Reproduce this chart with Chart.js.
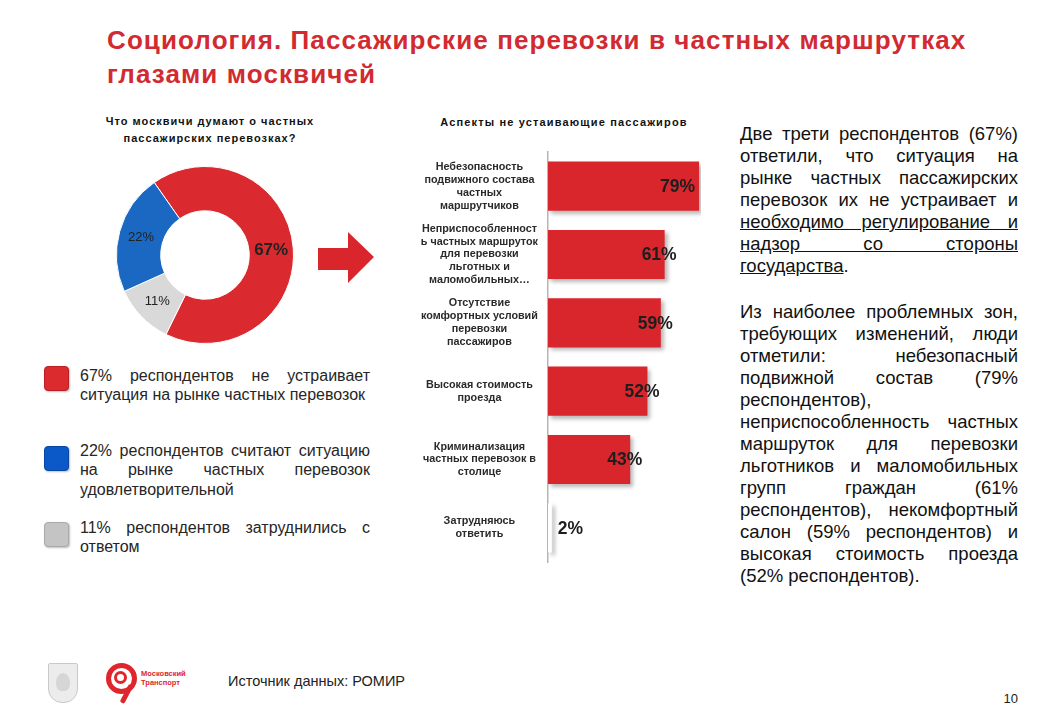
<!DOCTYPE html>
<html lang="ru">
<head>
<meta charset="UTF-8">
<title>Социология. Пассажирские перевозки в частных маршрутках</title>
<script src="https://cdn.jsdelivr.net/npm/chart.js@4.4.1/dist/chart.umd.min.js"></script>
<style>
  body {
    margin: 0;
    width: 1040px;
    height: 720px;
    position: relative;
    overflow: hidden;
    background: #fff;
    font-family: 'Liberation Sans', Arial, sans-serif;
    color: #1a1a1a;
  }
  .abs { position: absolute; }

  h1 {
    position: absolute; left: 107px; top: 23px; margin: 0;
    font-size: 26px; line-height: 34px; font-weight: bold; color: #d22a31;
    letter-spacing: 1.1px; white-space: nowrap;
  }

  .subtitle {
    position: absolute; text-align: center; font-weight: bold;
    font-size: 11px; line-height: 16.5px; letter-spacing: 1px; color: #111;
  }

  .arrow {
    position: absolute; left: 318px; top: 232px; width: 56px; height: 52px;
    background: #d9262c;
    clip-path: polygon(0 16px, 30px 16px, 30px 0, 56px 25px, 30px 51px, 30px 38px, 0 38px);
  }

  .legend-box {
    position: absolute; left: 44px; width: 23px; height: 23px;
    border-radius: 4px; border: 1px solid; box-shadow: 1px 1px 2px rgba(0,0,0,0.25);
  }
  .legend-text {
    position: absolute; left: 80px; width: 290px;
    font-size: 16px; line-height: 19.3px; color: #262626;
  }

  .side-text {
    position: absolute; left: 740px; top: 123px; width: 278px;
    font-size: 18.5px; line-height: 22px; color: #111;
  }
  .side-text p { margin: 0; }
  .side-text p + p { margin-top: 24px; }

  .j { display: block; text-align: justify; text-align-last: justify; }
  .l { display: block; }
  .u { text-decoration: underline; }

  .source { position: absolute; left: 228px; top: 673px; font-size: 14.5px; line-height: 17px; color: #222; }
  .page { position: absolute; right: 22px; top: 691px; font-size: 13px; color: #222; }

  /* logos */
  .shield {
    position: absolute; left: 48px; top: 663px; width: 28px; height: 38px;
    background: #ececec; border: 1px solid #c9c9c9;
    border-radius: 2px 2px 14px 14px;
  }
  .shield::after {
    content: ''; position: absolute; left: 7px; top: 9px; width: 14px; height: 18px;
    border-radius: 50% 50% 40% 40%; background: #d6d6d6;
  }
  .ring-outer {
    position: absolute; left: 106px; top: 663px; width: 21px; height: 21px;
    border: 5px solid #e0262d; border-radius: 50%;
  }
  .ring-inner {
    position: absolute; left: 114px; top: 671px; width: 7px; height: 7px;
    border: 3px solid #e0262d; border-radius: 50%;
  }
  .ring-tail {
    position: absolute; left: 124px; top: 684px; width: 5px; height: 20px;
    background: #e0262d; transform: rotate(28deg); border-radius: 2px;
  }
  .brand {
    position: absolute; left: 141px; top: 669px; font-size: 7.5px; line-height: 9px;
    font-weight: bold; color: #e0262d;
  }
</style>
</head>
<body>

<h1>Социология. Пассажирские перевозки в частных маршрутках<br>глазами москвичей</h1>

<!-- левая часть: мнение москвичей -->
<div class="subtitle" style="left:80px; top:113px; width:260px;">Что москвичи думают о частных<br>пассажирских перевозках?</div>

<div class="abs" style="left:116px; top:166px; width:178px; height:178px;">
  <canvas id="opinionChart"></canvas>
</div>

<div class="arrow"></div>

<div class="legend-box" style="top:366px; background:#dc2b2f; border-color:#b91f24;"></div>
<div class="legend-text" style="top:366px;">
  <div class="j">67% респондентов не устраивает</div>
  <div>ситуация на рынке частных перевозок</div>
</div>

<div class="legend-box" style="top:446px; background:#0b58c9; border-color:#0a47a3;"></div>
<div class="legend-text" style="top:441px;">
  <div class="j">22% респондентов считают ситуацию</div>
  <div class="j">на рынке частных перевозок</div>
  <div>удовлетворительной</div>
</div>

<div class="legend-box" style="top:522px; background:#c4c4c4; border-color:#a9a9a9;"></div>
<div class="legend-text" style="top:518px;">
  <div class="j">11% респондентов затруднились с</div>
  <div>ответом</div>
</div>

<!-- аспекты -->
<div class="subtitle" style="left:414px; top:114px; width:300px; letter-spacing:1.15px;">Аспекты не устаивающие пассажиров</div>

<div class="abs" style="left:400px; top:140px; width:320px; height:430px;">
  <canvas id="aspectsChart"></canvas>
</div>

<!-- текст справа -->
<div class="side-text">
  <p>
    <span class="j">Две трети респондентов (67%)</span>
    <span class="j">ответили, что ситуация на</span>
    <span class="j">рынке частных пассажирских</span>
    <span class="j">перевозок их не устраивает и</span>
    <span class="j u">необходимо регулирование и</span>
    <span class="j u">надзор со стороны</span>
    <span class="l"><span class="u">государства</span>.</span>
  </p>
  <p>
    <span class="j">Из наиболее проблемных зон,</span>
    <span class="j">требующих изменений, люди</span>
    <span class="j">отметили: небезопасный</span>
    <span class="j">подвижной состав (79%</span>
    <span class="l">респондентов),</span>
    <span class="j">неприспособленность частных</span>
    <span class="j">маршруток для перевозки</span>
    <span class="j">льготников и маломобильных</span>
    <span class="j">групп граждан (61%</span>
    <span class="j">респондентов), некомфортный</span>
    <span class="j">салон (59% респондентов) и</span>
    <span class="j">высокая стоимость проезда</span>
    <span class="l">(52% респондентов).</span>
  </p>
</div>

<!-- подвал -->
<div class="shield"></div>
<div class="ring-outer"></div>
<div class="ring-inner"></div>
<div class="ring-tail"></div>
<div class="brand">Московский<br>Транспорт</div>
<div class="source">Источник данных: РОМИР</div>
<div class="page">10</div>

<script>
  const FONT = "'Liberation Sans', Arial, sans-serif";

  // мнение о частных перевозках, %
  const opinionLabels = ["Не устраивает", "Затрудняюсь ответить", "Удовлетворительно"];
  const opinionValues = [67, 11, 22];
  const opinionColors = ["#da2a2f", "#d9d9d9", "#1b68c2"];

  // аспекты, не устраивающие пассажиров, %
  const aspectLabels = [
    ["Небезопасность", "подвижного состава", "частных", "маршрутчиков"],
    ["Неприспособленност", "ь частных маршруток", "для перевозки", "льготных и", "маломобильных…"],
    ["Отсутствие", "комфортных условий", "перевозки", "пассажиров"],
    ["Высокая стоимость", "проезда"],
    ["Криминализация", "частных перевозок в", "столице"],
    ["Затрудняюсь", "ответить"]
  ];
  const aspectValues = [79, 61, 59, 52, 43, 2];
  const aspectColors = ["#d9262c", "#d9262c", "#d9262c", "#d9262c", "#d9262c", "#ffffff"];

  Chart.defaults.font.family = FONT;

  // подписи процентов внутри кольца
  const donutLabels = {
    id: 'donutLabels',
    afterDatasetsDraw(chart) {
      const ctx = chart.ctx;
      const meta = chart.getDatasetMeta(0);
      ctx.save();
      ctx.textAlign = 'center';
      ctx.textBaseline = 'middle';
      meta.data.forEach((arc, i) => {
        const p = arc.tooltipPosition();
        ctx.font = i === 0 ? "bold 17px " + FONT : "13px " + FONT;
        ctx.fillStyle = '#222';
        ctx.fillText(opinionValues[i] + '%', p.x, p.y);
      });
      ctx.restore();
    }
  };

  new Chart(document.getElementById('opinionChart'), {
    type: 'doughnut',
    data: {
      labels: opinionLabels,
      datasets: [{
        data: opinionValues,
        backgroundColor: opinionColors,
        borderColor: '#fff',
        borderWidth: 1
      }]
    },
    options: {
      responsive: true,
      maintainAspectRatio: false,
      animation: false,
      cutout: '50%',
      rotation: -35,
      plugins: { legend: { display: false }, tooltip: { enabled: false } }
    },
    plugins: [donutLabels]
  });

  // тень под столбцами
  const barShadow = {
    id: 'barShadow',
    beforeDatasetsDraw(chart) {
      const c = chart.ctx;
      c.save();
      c.shadowColor = 'rgba(0,0,0,0.28)';
      c.shadowBlur = 4;
      c.shadowOffsetX = 3;
      c.shadowOffsetY = 3;
    },
    afterDatasetsDraw(chart) {
      chart.ctx.restore();
    }
  };

  // проценты у концов столбцов
  const barValueLabels = {
    id: 'barValueLabels',
    afterDatasetsDraw(chart) {
      const ctx = chart.ctx;
      const area = chart.chartArea;
      const meta = chart.getDatasetMeta(0);
      ctx.save();
      ctx.font = "bold 17.5px " + FONT;
      ctx.fillStyle = '#1e1e1e';
      ctx.textBaseline = 'middle';
      meta.data.forEach((bar, i) => {
        const txt = aspectValues[i] + '%';
        if (bar.x - bar.base < 20) {
          ctx.textAlign = 'left';
          ctx.fillText(txt, bar.x + 6, bar.y + 1);
        } else {
          ctx.textAlign = 'right';
          ctx.fillText(txt, Math.min(bar.x + 12, area.right - 6), bar.y + 1);
        }
      });
      ctx.restore();
    }
  };

  new Chart(document.getElementById('aspectsChart'), {
    type: 'bar',
    data: {
      labels: aspectLabels,
      datasets: [{
        data: aspectValues,
        backgroundColor: aspectColors,
        barPercentage: 1,
        categoryPercentage: 0.72
      }]
    },
    options: {
      indexAxis: 'y',
      responsive: true,
      maintainAspectRatio: false,
      animation: false,
      layout: { padding: { top: 12, bottom: 8, left: 0, right: 19 } },
      scales: {
        x: { display: false, min: 0, max: 80 },
        y: {
          grid: { display: false, drawTicks: false },
          border: { display: true, color: '#b5b5b5', width: 1.5 },
          ticks: {
            autoSkip: false,
            crossAlign: 'center',
            padding: 10,
            color: '#2a2a2a',
            font: { size: 10.8, weight: 'bold', lineHeight: 1.2 }
          },
          afterFit(scale) {
            scale.width = 148;
            scale.paddingTop = 0;
            scale.paddingBottom = 0;
          }
        }
      },
      plugins: { legend: { display: false }, tooltip: { enabled: false } }
    },
    plugins: [barShadow, barValueLabels]
  });
</script>

</body>
</html>
